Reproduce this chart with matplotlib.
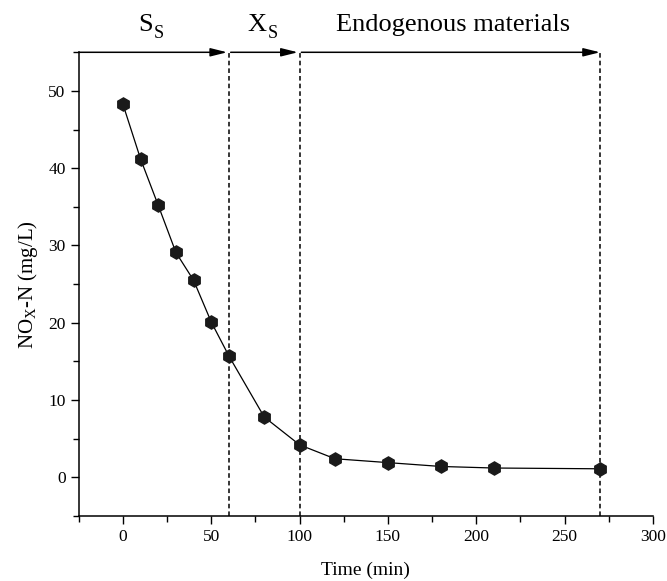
import matplotlib
matplotlib.use('Agg')
import matplotlib.pyplot as plt
from matplotlib.ticker import MultipleLocator

plt.rcParams['font.family'] = 'Liberation Serif'
plt.rcParams['mathtext.fontset'] = 'custom'
plt.rcParams['mathtext.rm'] = 'Liberation Serif'
plt.rcParams['mathtext.it'] = 'Liberation Serif:italic'

time = [0, 10, 20, 30, 40, 50, 60, 80, 100, 120, 150, 180, 210, 270]
nox = [48.3, 41.2, 35.2, 29.1, 25.5, 20.1, 15.7, 7.8, 4.2, 2.4, 1.9, 1.4, 1.2, 1.1]

# phase boundaries and labels
bounds = [60, 100, 270]

fig = plt.figure(figsize=(6.67, 5.81), dpi=100)
ax = fig.add_axes([0.118, 0.112, 0.861, 0.798])

ax.plot(time, nox, color='black', lw=0.9, marker='h', ms=9.5,
        markerfacecolor='#1a1a1a', markeredgecolor='#1a1a1a', zorder=3)

ax.set_xlim(-25, 300)
ax.set_ylim(-5, 55)

for b in bounds:
    ax.plot([b, b], [-5, 55], color='black', lw=1.1, ls=(0, (3, 2)), clip_on=False)

starts = [-25] + [b + 1 for b in bounds[:-1]]
ends = [b - 1 for b in bounds[:-1]] + [bounds[-1]]
for s, e in zip(starts, ends):
    ax.annotate('', xy=(e, 55), xytext=(s, 55), annotation_clip=False,
                arrowprops=dict(arrowstyle='-|>,head_length=1.0,head_width=0.25',
                                color='black', lw=1.1, shrinkA=0, shrinkB=0))

# phase labels, subscripts placed by hand so they sit low like the original
for px, main in [(17, 'S'), (81.5, 'X')]:
    ax.text(px, 57.7, main, ha='right', va='baseline', fontsize=19)
    ax.annotate('S', xy=(px, 57.7), xytext=(0.5, -5), textcoords='offset points',
                ha='left', va='baseline', fontsize=13, annotation_clip=False)
ax.text(187, 57.7, 'Endogenous materials', ha='center', va='baseline', fontsize=19)

for side in ['top', 'right']:
    ax.spines[side].set_visible(False)
ax.spines['left'].set_linewidth(1.1)
ax.spines['bottom'].set_linewidth(1.1)

ax.xaxis.set_major_locator(MultipleLocator(50))
ax.xaxis.set_minor_locator(MultipleLocator(25))
ax.yaxis.set_major_locator(MultipleLocator(10))
ax.yaxis.set_minor_locator(MultipleLocator(5))
ax.tick_params(which='major', length=6, width=1.0, labelsize=12.5, direction='out')
ax.tick_params(which='minor', length=4, width=1.0, direction='out')

ax.set_xlabel('Time (min)', fontsize=14, labelpad=12)
ax.set_ylabel(r'NO$_\mathregular{X}$-N (mg/L)', fontsize=15, labelpad=6)

fig.savefig('out.png', dpi=100)
